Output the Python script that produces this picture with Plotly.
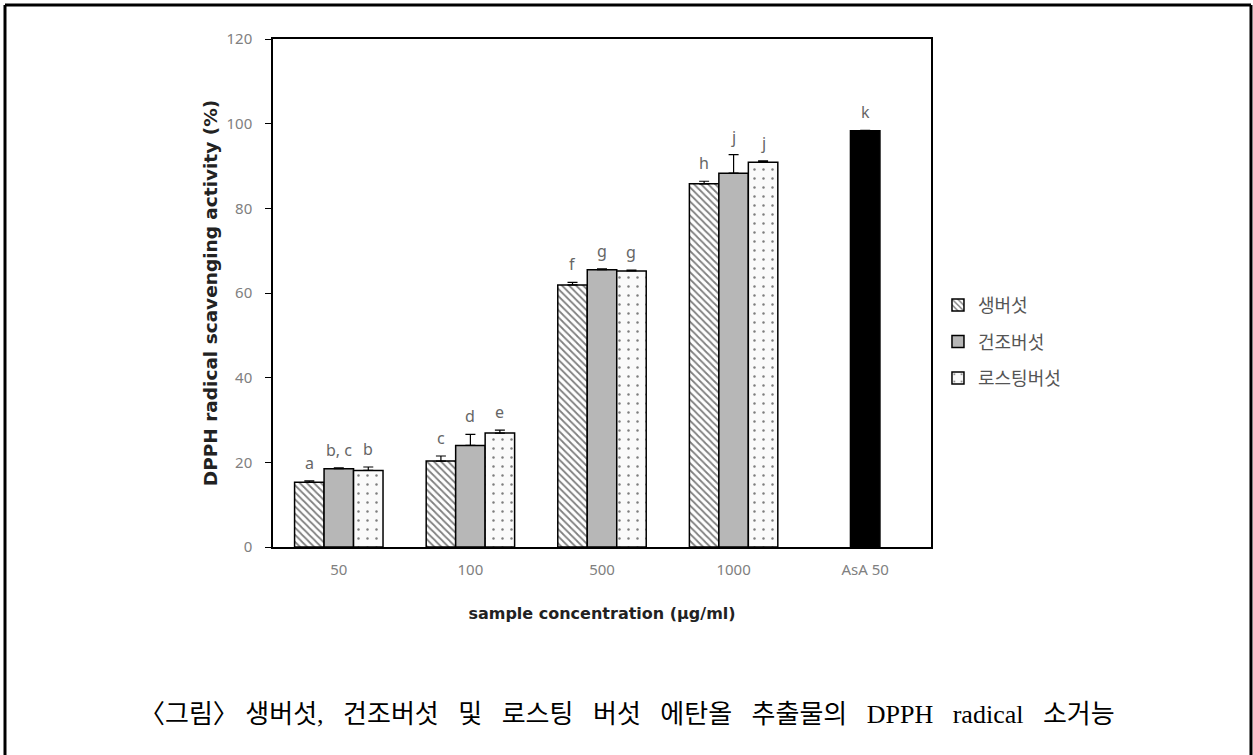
import plotly.graph_objects as go

categories = ['50', '100', '500', '1000', 'AsA 50']
sample_cats = categories[:4]

raw_vals = [15.3, 20.3, 61.9, 85.8]
raw_err = [0.3, 1.2, 0.6, 0.6]
raw_letters = ['a', 'c', 'f', 'h']

dried_vals = [18.5, 24.0, 65.5, 88.3]
dried_err = [0.2, 2.6, 0.2, 4.4]
dried_letters = ['b, c', 'd', 'g', 'j']

roast_vals = [18.1, 26.9, 65.2, 90.9]
roast_err = [0.8, 0.7, 0.2, 0.3]
roast_letters = ['b', 'e', 'g', 'j']

asa_vals = [98.3]
asa_err = [0.1]
asa_letters = ['k']

series_names = ['생버섯', '건조버섯', '로스팅버섯']

y_ticks = [0, 20, 40, 60, 80, 100, 120]

W = 0.224
slot_px = 131.6

fig = go.Figure()

line_style = dict(color='black', width=1.5)


def err_style(arr):
    return dict(type='data', array=arr, arrayminus=[0] * len(arr), symmetric=False,
                color='black', thickness=1.2, width=5)


fig.add_trace(go.Bar(
    x=sample_cats, y=raw_vals, name=series_names[0], legendgroup='g1',
    width=W, offset=-1.5 * W,
    marker=dict(color='white', line=line_style,
                pattern=dict(shape='\\', fgcolor='black', bgcolor='white', size=5, solidity=0.35)),
    error_y=err_style(raw_err),
))
fig.add_trace(go.Bar(
    x=sample_cats, y=dried_vals, name=series_names[1], legendgroup='g2',
    width=W, offset=-0.5 * W,
    marker=dict(color='#b7b7b7', line=line_style),
    error_y=err_style(dried_err),
))
fig.add_trace(go.Bar(
    x=sample_cats, y=roast_vals, name=series_names[2], legendgroup='g3',
    width=W, offset=0.5 * W,
    marker=dict(color='#fafafa', line=line_style,
                pattern=dict(shape='.', fgcolor='black', bgcolor='#fafafa', size=9, solidity=0.06)),
    error_y=err_style(roast_err),
))
fig.add_trace(go.Bar(
    x=[categories[4]], y=asa_vals, name='AsA', showlegend=False,
    width=W, offset=-0.5 * W,
    marker=dict(color='black', line=line_style),
    error_y=err_style(asa_err),
))

annotations = []
letter_font = dict(family='Noto Sans', size=16, color='#666666')
for vals, errs, letters, shift, cats in [
    (raw_vals, raw_err, raw_letters, -W * slot_px, sample_cats),
    (dried_vals, dried_err, dried_letters, 0, sample_cats),
    (roast_vals, roast_err, roast_letters, W * slot_px, sample_cats),
    (asa_vals, asa_err, asa_letters, 0, [categories[4]]),
]:
    for c, v, e, t in zip(cats, vals, errs, letters):
        annotations.append(dict(x=categories.index(c), y=v + e, text=t, showarrow=False,
                                xref='x', yref='y', xshift=shift, yshift=5, yanchor='bottom',
                                font=letter_font))

annotations.append(dict(
    x=0.538, y=-0.329, xref='paper', yref='paper', showarrow=False,
    xanchor='center', yanchor='middle',
    text='〈그림〉 생버섯,   건조버섯   및   로스팅   버섯   에탄올   추출물의   DPPH   radical   소거능',
    font=dict(family='Liberation Serif, Noto Sans CJK KR', size=26, color='black'),
))

shapes = [
    dict(type='line', xref='paper', yref='paper', x0=-0.4073, x1=-0.4073, y0=-0.45, y1=1.0669,
         line=dict(color='black', width=3)),
    dict(type='line', xref='paper', yref='paper', x0=-0.4073, x1=1.4863, y0=1.0669, y1=1.0669,
         line=dict(color='black', width=3)),
    dict(type='line', xref='paper', yref='paper', x0=1.4863, x1=1.4863, y0=-0.45, y1=1.0669,
         line=dict(color='black', width=3)),
]

fig.update_layout(
    width=1253, height=755,
    margin=dict(l=273, r=322, t=39, b=208),
    paper_bgcolor='white', plot_bgcolor='white',
    barmode='overlay',
    showlegend=True,
    legend=dict(x=1.0106, y=0.512, xanchor='left', yanchor='top',
                font=dict(family='Noto Sans CJK KR', size=18, color='#555555'),
                tracegroupgap=10, traceorder='grouped', bgcolor='rgba(0,0,0,0)'),
    annotations=annotations,
    shapes=shapes,
    xaxis=dict(type='category', categoryorder='array', categoryarray=categories,
               range=[-0.5, 4.5], showline=True, linecolor='black', linewidth=1.5, mirror=True,
               ticks='', showgrid=False, zeroline=False, ticklabelstandoff=8,
               tickfont=dict(family='Noto Sans', size=15, color='#808080'),
               title=dict(text='<b>sample concentration (μg/ml)</b>',
                          font=dict(family='DejaVu Sans', size=16, color='#222222'), standoff=30)),
    yaxis=dict(range=[0, 120], tickvals=y_ticks, showline=True, linecolor='black', linewidth=1.5,
               mirror=True, ticks='outside', ticklen=6, tickcolor='black', tickwidth=1.2,
               showgrid=False, zeroline=False, ticklabelstandoff=10,
               tickfont=dict(family='Noto Sans', size=15, color='#808080'),
               title=dict(text='<b>DPPH radical scavenging activity (%)</b>',
                          font=dict(family='DejaVu Sans', size=18.5, color='#222222'), standoff=4)),
)

fig.write_html('out.html', config={'displayModeBar': False},
               post_script="document.body.style.margin='0px';")
